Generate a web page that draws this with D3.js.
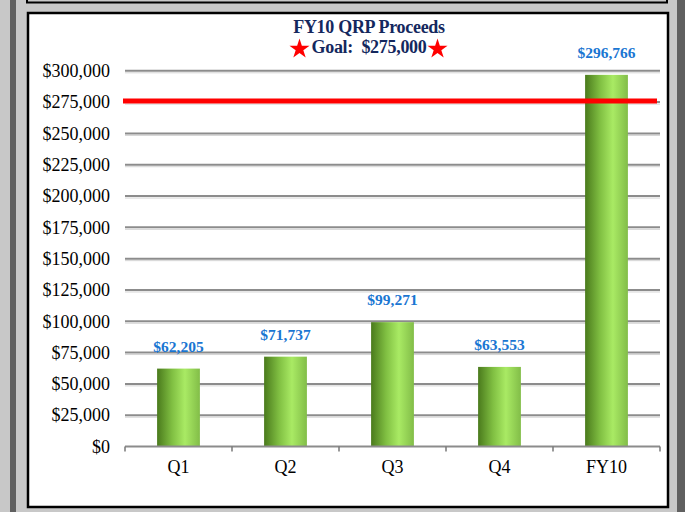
<!DOCTYPE html>
<html>
<head>
<meta charset="utf-8">
<script src="https://cdn.jsdelivr.net/npm/d3@7"></script>
<style>
  body { margin: 0; background: #c8c8c8; }
  svg { display: block; }
</style>
</head>
<body>
<script>
// FY10 QRP Proceeds - column chart with goal line

let categories = ['Q1', 'Q2', 'Q3', 'Q4', 'FY10']
let proceeds = [62205, 71737, 99271, 63553, 296766]
let goal = 275000
let yTicks = [0, 25000, 50000, 75000, 100000, 125000, 150000, 175000, 200000, 225000, 250000, 275000, 300000]

let W = 685
let H = 512

let svg = d3.select('body')
  .append('svg')
  .attr('width', W)
  .attr('height', H)

// background frame
svg.append('rect').attr('x', 0).attr('y', 0).attr('width', W).attr('height', H).attr('fill', '#c8c8c8')
svg.append('rect').attr('x', 10).attr('y', 0).attr('width', 6).attr('height', H).attr('fill', '#606060')
svg.append('rect').attr('x', 677).attr('y', 0).attr('width', 8).attr('height', H).attr('fill', '#606060')
// bottom edge of the box above
svg.append('path').attr('d', 'M27,-2V2.5H667V-2').attr('fill', 'none').attr('stroke', '#000').attr('stroke-width', 2)
// white panel
svg.append('rect')
  .attr('x', 28).attr('y', 13).attr('width', 640).attr('height', 494)
  .attr('fill', '#fff').attr('stroke', '#000').attr('stroke-width', 2.5)

let defs = svg.append('defs')
let grad = defs.append('linearGradient').attr('id', 'barGrad').attr('x1', 0).attr('x2', 1).attr('y1', 0).attr('y2', 0)
grad.append('stop').attr('offset', '0%').attr('stop-color', '#4a7a1c')
grad.append('stop').attr('offset', '35%').attr('stop-color', '#80bf42')
grad.append('stop').attr('offset', '65%').attr('stop-color', '#a9ea64')
grad.append('stop').attr('offset', '100%').attr('stop-color', '#82bd48')

let x = d3.scaleBand()
  .domain(categories)
  .range([125, 660])
  .padding(0)

let y = d3.scaleLinear()
  .domain([0, 300000])
  .range([446.5, 70.8])

let fmt = d3.format('$,')

// gridlines
let grid = svg.append('g')
grid.selectAll('.shadow')
  .data(yTicks.filter(d => d > 0))
  .enter().append('line')
  .attr('x1', 125).attr('x2', 660)
  .attr('y1', d => y(d) + 2).attr('y2', d => y(d) + 2)
  .attr('stroke', '#d4d4d4').attr('stroke-width', 1)
grid.selectAll('.grid')
  .data(yTicks.filter(d => d > 0))
  .enter().append('line')
  .attr('x1', 125).attr('x2', 660)
  .attr('y1', d => y(d)).attr('y2', d => y(d))
  .attr('stroke', '#8c8c8c').attr('stroke-width', 2)

// y axis labels
let yAxis = d3.axisLeft(y)
  .tickValues(yTicks)
  .tickFormat(fmt)
  .tickSize(0)
  .tickPadding(0)
let gy = svg.append('g')
  .attr('transform', 'translate(110,0)')
  .call(yAxis)
gy.select('.domain').remove()
gy.selectAll('text')
  .attr('font-family', '"Liberation Serif", "Times New Roman", serif')
  .attr('font-size', 18)
  .attr('fill', '#000')

// bars
svg.append('g')
  .selectAll('rect')
  .data(proceeds)
  .enter().append('rect')
  .attr('x', (d, i) => x(categories[i]) + x.bandwidth() * 0.3)
  .attr('width', x.bandwidth() * 0.4)
  .attr('y', d => y(d))
  .attr('height', d => y(0) - y(d))
  .attr('fill', 'url(#barGrad)')

// value labels
svg.append('g')
  .selectAll('text')
  .data(proceeds)
  .enter().append('text')
  .attr('x', (d, i) => x(categories[i]) + x.bandwidth() / 2)
  .attr('y', d => y(d) - 17)
  .attr('text-anchor', 'middle')
  .attr('font-family', '"Liberation Serif", "Times New Roman", serif')
  .attr('font-weight', 'bold')
  .attr('font-size', 15.5)
  .attr('fill', '#1a76d2')
  .text(d => fmt(d))

// x axis
svg.append('line')
  .attr('x1', 125).attr('x2', 660)
  .attr('y1', y(0)).attr('y2', y(0))
  .attr('stroke', '#8c8c8c').attr('stroke-width', 2)
let bounds = categories.map(c => x(c)).concat([x.range()[1]])
svg.append('g')
  .selectAll('line')
  .data(bounds)
  .enter().append('line')
  .attr('x1', d => d).attr('x2', d => d)
  .attr('y1', y(0)).attr('y2', y(0) + 5)
  .attr('stroke', '#777').attr('stroke-width', 1.5)
let xAxis = d3.axisBottom(x).tickSize(0).tickPadding(0)
let gx = svg.append('g')
  .attr('transform', 'translate(0,' + (y(0) + 14) + ')')
  .call(xAxis)
gx.select('.domain').remove()
gx.selectAll('text')
  .attr('font-family', '"Liberation Serif", "Times New Roman", serif')
  .attr('font-size', 18)
  .attr('fill', '#000')

// goal line
svg.append('line')
  .attr('x1', 123).attr('x2', 657)
  .attr('y1', y(goal) - 1).attr('y2', y(goal) - 1)
  .attr('stroke', '#ff0000').attr('stroke-width', 5)

// title
let titleX = 369
svg.append('text')
  .attr('x', titleX).attr('y', 33)
  .attr('text-anchor', 'middle')
  .attr('font-family', '"Liberation Serif", "Times New Roman", serif')
  .attr('font-weight', 'bold')
  .attr('font-size', 18)
  .attr('letter-spacing', -0.3)
  .attr('fill', '#14285e')
  .text('FY10 QRP Proceeds')
let sub = svg.append('text')
  .attr('x', titleX).attr('y', 53)
  .attr('text-anchor', 'middle')
  .attr('font-family', '"Liberation Serif", "Times New Roman", serif')
  .attr('font-weight', 'bold')
  .attr('font-size', 18)
  .attr('letter-spacing', -0.3)
  .attr('fill', '#14285e')
  .attr('xml:space', 'preserve')
  .text('Goal:  ' + fmt(goal))
let subW = sub.node().getComputedTextLength()
let star = d3.symbol().type(d3.symbolStar).size(125)
svg.selectAll('.star')
  .data([titleX - subW / 2 - 12, titleX + subW / 2 + 11])
  .enter().append('path')
  .attr('d', star)
  .attr('transform', d => 'translate(' + d + ',49)')
  .attr('fill', '#ff0000')
</script>
</body>
</html>
